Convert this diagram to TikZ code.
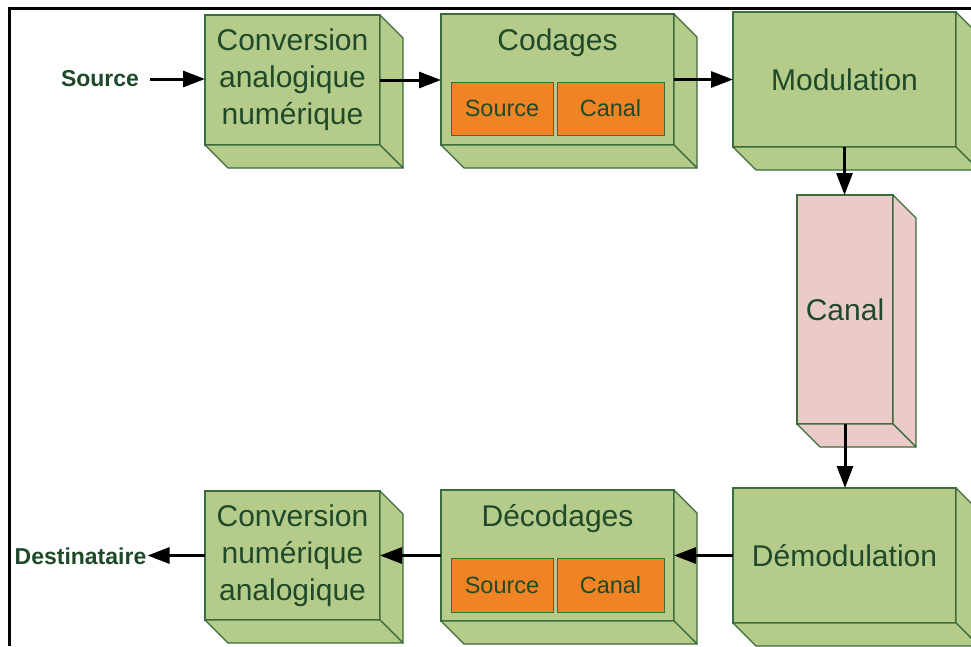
\documentclass[tikz,border=0pt]{standalone}
\usepackage{fontspec}
\setmainfont{Liberation Sans}
\usetikzlibrary{arrows.meta,calc}
\definecolor{boxgreen}{HTML}{B5CB8A}
\definecolor{edgegreen}{HTML}{3C6B3C}
\definecolor{txtgreen}{HTML}{1E4A2A}
\definecolor{orangebox}{HTML}{F08424}
\definecolor{pinkbox}{HTML}{EBCBCA}
\tikzset{
  front/.style={draw=edgegreen, line width=1.2pt, fill=#1, outer sep=0pt, inner sep=0pt,
    align=center, text=txtgreen, font=\fontsize{30}{37}\selectfont},
  front/.default=boxgreen,
  subbox/.style={draw=edgegreen, line width=1pt, fill=orangebox, outer sep=0pt, inner sep=0pt,
    minimum height=53pt, text=txtgreen, font=\fontsize{23.5}{28}\selectfont},
  title/.style={text=txtgreen, font=\fontsize{30}{37}\selectfont, inner sep=0pt, anchor=base},
  lbl/.style={text=txtgreen, font=\fontsize{23}{28}\selectfont\bfseries, inner sep=0pt},
  flow/.style={line width=3pt, -{Triangle[length=22pt,width=16pt]}},
  depthface/.style={draw=edgegreen, line width=1.2pt, line join=round},
}
\newcommand\depthfaces[2]{%
  \path[depthface, fill=#2] (#1.north east) -- ++(23,23) -- ($(#1.south east)+(23,23)$) -- (#1.south east) -- cycle;
  \path[depthface, fill=#2] (#1.south west) -- (#1.south east) -- ++(23,23) -- ($(#1.south west)+(23,23)$) -- cycle;
}
\begin{document}
\begin{tikzpicture}[x=1pt, y=-1pt]
  \useasboundingbox (0,0) rectangle (971,646);
  \clip (0,0) rectangle (971,646);
  \fill[white] (0,0) rectangle (971,646);

  % top row
  \node[front, minimum width=175pt, minimum height=130pt] (conv1) at (292.5,80)
    {Conversion\\analogique\\numérique};
  \depthfaces{conv1}{boxgreen}

  \node[front, minimum width=233pt, minimum height=131pt] (cod) at (557.5,79.5) {};
  \depthfaces{cod}{boxgreen}
  \node[title] (codt) at (557.5,50) {Codages};
  \node[subbox, minimum width=102pt] (cods) at (502,108.5) {Source};
  \node[subbox, minimum width=107pt] (codc) at (610.5,108.5) {Canal};

  \node[front, minimum width=223pt, minimum height=135pt] (mod) at (844.5,79.5) {Modulation};
  \depthfaces{mod}{boxgreen}

  % channel
  \node[front=pinkbox, minimum width=96pt, minimum height=229pt] (can) at (845,309.5) {Canal};
  \depthfaces{can}{pinkbox}

  % bottom row
  \node[front, minimum width=223pt, minimum height=135pt] (dem) at (844.5,555.5) {Démodulation};
  \depthfaces{dem}{boxgreen}

  \node[front, minimum width=233pt, minimum height=131pt] (dec) at (557.5,555.5) {};
  \depthfaces{dec}{boxgreen}
  \node[title] (dect) at (557.5,526) {Décodages};
  \node[subbox, minimum width=102pt, minimum height=54pt] (decs) at (502,585) {Source};
  \node[subbox, minimum width=107pt, minimum height=54pt] (decc) at (610.5,585) {Canal};

  \node[front, minimum width=175pt, minimum height=129pt] (conv2) at (292.5,555.5)
    {Conversion\\numérique\\analogique};
  \depthfaces{conv2}{boxgreen}

  % end labels
  \node[lbl] (src) at (100,79) {Source};
  \node[lbl] (dst) at (80.5,556) {Destinataire};

  % connectors
  \draw[flow, shorten <=11pt] (src.east) -- (src.east -| conv1.west);
  \draw[flow] (conv1.east) -- (conv1.east -| cod.west);
  \draw[flow] (cod.east) -- (cod.east -| mod.west);
  \draw[flow] (mod.south) -- (mod.south |- can.north);
  \draw[flow] (can.south) -- (can.south |- dem.north);
  \draw[flow] (dem.west) -- (dem.west -| dec.east);
  \draw[flow] (dec.west) -- (dec.west -| conv2.east);
  \draw[flow, shorten >=1pt] (conv2.west) -- (conv2.west -| dst.east);

  % frame
  \draw[line width=2.5pt] (9.5,646) -- (9.5,8.5) -- (971,8.5);
\end{tikzpicture}
\end{document}
